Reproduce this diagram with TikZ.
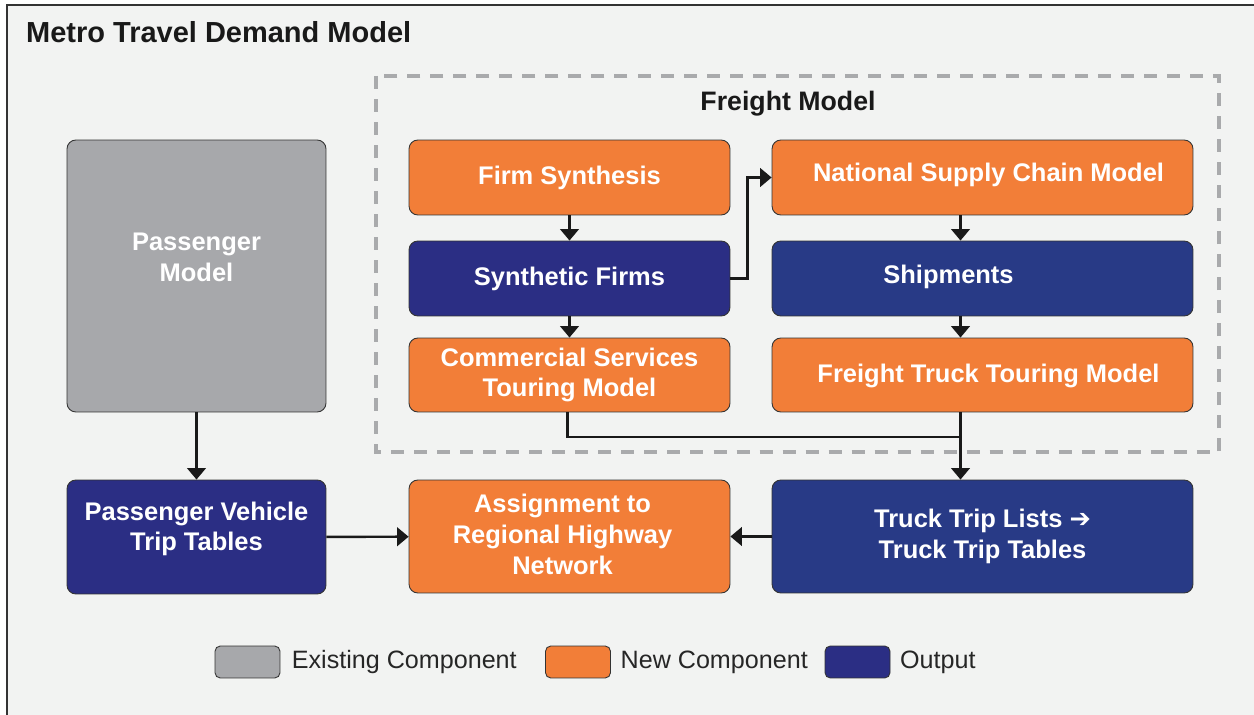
\documentclass[tikz,border=0pt]{standalone}
\usepackage{fontspec}
\setmainfont{Liberation Sans}
\newfontfamily\symfont{DejaVu Sans}
\usepackage{tikz}
\usepackage{xcolor}
\usetikzlibrary{
    arrows.meta,
    calc,
    positioning
}
\definecolor{bgpanel}{HTML}{F2F3F2}
\definecolor{oldgray}{HTML}{A7A8AB}
\definecolor{neworange}{HTML}{F27E38}
\definecolor{outnavy}{HTML}{2B2E84}
\definecolor{outblue}{HTML}{283A86}
\definecolor{dashgray}{HTML}{A9AAAC}

\begin{document}
\begin{tikzpicture}[x=0.02cm, y=-0.02cm,
    >={Triangle[length=6.5pt, width=10.5pt]},
    boxtext/.style={align=center, text=white, font=\bfseries\fontsize{14.5}{17.5}\selectfont},
    box/.style={draw=black!80, line width=0.5pt, rounded corners=5pt, boxtext},
    oldbox/.style={box, fill=oldgray},
    newbox/.style={box, fill=neworange},
    outbox/.style={box, fill=outblue},
    outbox2/.style={box, fill=outnavy},
    keybox/.style={draw=black!80, line width=0.5pt, rounded corners=3pt,
        minimum width=1.3cm, minimum height=0.64cm},
    keytext/.style={anchor=west, font=\fontsize{14.3}{16}\selectfont, text=black!85},
    link/.style={line width=1.4pt, black!90}
    ]
    \useasboundingbox (0, 0) rectangle (1254, 715);
    \fill[bgpanel] (7, 5) rectangle (1254, 715);
    \draw[black!80, line width=1.2pt] (7, 715) -- (7, 5) -- (1254, 5);
    \node[anchor=west, font=\bfseries\fontsize{16.5}{19}\selectfont, text=black!90] (title) at (20, 32) {Metro Travel Demand Model};

    % freight model frame
    \draw[dashgray, line width=2.8pt, dash pattern=on 7.4pt off 5.7pt] (376, 76) rectangle (1219, 452);
    \node[font=\bfseries\fontsize{15.2}{18}\selectfont, text=black!90] (fm) at (788, 104) {Freight Model};

    \node[oldbox, minimum width=5.18cm, minimum height=5.44cm,
        label={[boxtext, shift={(0, -19)}]center:Passenger\\Model}] (pm) at (196.5, 276) {};
    \node[newbox, minimum width=6.42cm, minimum height=1.5cm] (fs) at (569.5, 177.5) {Firm Synthesis};
    \node[outbox2, minimum width=6.42cm, minimum height=1.5cm] (sf) at (569.5, 278.5) {Synthetic Firms};
    \node[newbox, minimum width=6.42cm, minimum height=1.48cm] (cs) at (569.5, 375) {Commercial Services\\Touring Model};
    \node[newbox, minimum width=8.42cm, minimum height=1.5cm,
        label={[boxtext, shift={(6, -3)}]center:National Supply Chain Model}] (nsc) at (982.5, 177.5) {};
    \node[outbox, minimum width=8.42cm, minimum height=1.5cm,
        label={[boxtext, shift={(-34, -2)}]center:Shipments}] (sh) at (982.5, 278.5) {};
    \node[newbox, minimum width=8.42cm, minimum height=1.48cm,
        label={[boxtext, shift={(6, 1)}]center:Freight Truck Touring Model}] (ftt) at (982.5, 375) {};
    \node[outbox2, minimum width=5.18cm, minimum height=2.28cm,
        label={[boxtext, shift={(0, -8)}]center:Passenger Vehicle\\Trip Tables}] (pv) at (196.5, 537) {};
    \node[newbox, minimum width=6.42cm, minimum height=2.26cm,
        label={[boxtext, shift={(-7, -2)}]center:Assignment to\\Regional Highway\\Network}] (asg) at (569.5, 536.5) {};
    \node[outbox, minimum width=8.42cm, minimum height=2.26cm] (ttl) at (982.5, 536.5) {Truck Trip Lists {\symfont\bfseries ➔}\\Truck Trip Tables};

    \coordinate (j) at (960, 437);
    \draw[link]
    (fs) edge[->] (sf)
    (sf) edge[->] (cs)
    (pm) edge[->] (pv)
    (pv) edge[->] (asg)
    (ttl) edge[->] (asg)
    ($(nsc.south)+(-22, 0)$) edge[->] ($(sh.north)+(-22, 0)$)
    ($(sh.south)+(-22, 0)$) edge[->] ($(ftt.north)+(-22, 0)$)
    ($(ftt.south)+(-22, 0)$) edge[->] ($(ttl.north)+(-22, 0)$);
    \draw[link] ($(cs.south)+(-2, 0)$) |- (j);
    \draw[link, ->] (sf.east) -- ++(17, 0) |- (nsc.west);

    % key
    \node[keybox, fill=oldgray] (k1) at (247.5, 662) {};
    \node[keytext, right=3pt of k1] (k1t) {Existing Component};
    \node[keybox, fill=neworange] (k2) at (578, 662) {};
    \node[keytext, right=2pt of k2] (k2t) {New Component};
    \node[keybox, fill=outnavy] (k3) at (857.5, 662) {};
    \node[keytext, right=2pt of k3] (k3t) {Output};
\end{tikzpicture}
\end{document}
